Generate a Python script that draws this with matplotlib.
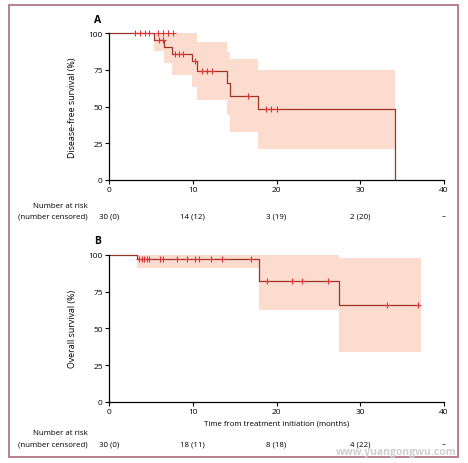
import matplotlib
matplotlib.use("Agg")
import matplotlib.pyplot as plt
from matplotlib.patches import Rectangle

plt.rcParams['font.family'] = ['Open Sans', 'DejaVu Sans']

# ---------------- Data ----------------
# Panel A: disease-free survival
a_step_t = [0, 5.4, 6.6, 7.5, 9.9, 10.5, 14.1, 14.5, 17.8]
a_step_s = [100, 95.6, 90.8, 85.9, 81.3, 74.0, 66.0, 57.4, 48.3]
a_end_t = 34.1
a_ci_lo = [100, 87.7, 79.7, 71.5, 63.0, 54.6, 44.0, 32.4, 21.0]
a_ci_hi = [100, 100, 100, 100, 100, 94.0, 87.0, 82.4, 75.2]
a_cens_t = [3.1, 3.7, 4.3, 4.8, 5.9, 6.5, 7.1, 7.7, 6.0, 6.5, 7.9, 8.3, 8.8, 10.3, 11.1, 11.7, 12.3, 16.6, 18.7, 19.4, 20.1]
a_cens_s = [100, 100, 100, 100, 100, 100, 100, 100, 95.6, 95.6, 85.9, 85.9, 85.9, 81.3, 74.0, 74.0, 74.0, 57.4, 48.3, 48.3, 48.3]
a_risk = ["30 (0)", "14 (12)", "3 (19)", "2 (20)", "--"]

# Panel B: overall survival
b_step_t = [0, 3.4, 17.9, 27.5]
b_step_s = [100, 97.3, 82.1, 65.7]
b_end_t = 37.0
b_ci_end = 37.2
b_ci_lo = [100, 91.0, 62.7, 33.7]
b_ci_hi = [100, 100, 100, 97.7]
b_cens_t = [3.6, 3.9, 4.2, 4.5, 4.8, 6.1, 6.4, 8.1, 9.3, 10.3, 10.8, 12.2, 13.5, 16.9, 18.9, 21.9, 23.1, 26.2, 33.2, 36.9]
b_cens_s = [97.3] * 14 + [82.1] * 4 + [65.7] * 2
b_risk = ["30 (0)", "18 (11)", "8 (18)", "4 (22)", "--"]

risk_x = [0, 10, 20, 30, 40]
xticks = [0, 10, 20, 30, 40]
yticks = [0, 25, 50, 75, 100]

LINE = '#9e3328'
CROSS = '#d8353a'
BAND = '#fcdccf'
FS = 6

fig = plt.figure(figsize=(4.68, 4.64), dpi=100)
fig.patch.set_facecolor('white')

# outer frame
fig.patches.append(Rectangle((9 / 468, 1 - 458 / 464), (458 - 9) / 468, (458 - 6) / 464,
                             transform=fig.transFigure, fill=False,
                             edgecolor='#b8808c', linewidth=1.4, zorder=0))


def panel(rect, step_t, step_s, end_t, ci_end, lo, hi, ct, cs, ylabel, letter):
    ax = fig.add_axes(rect)
    tt = list(step_t) + [ci_end]
    ax.fill_between(tt, list(lo) + [lo[-1]], list(hi) + [hi[-1]], step='post',
                    color=BAND, linewidth=0, zorder=1)
    xs = list(step_t) + [end_t]
    ys = list(step_s) + [step_s[-1]]
    ax.step(xs, ys, where='post', color=LINE, linewidth=0.9, zorder=2, clip_on=False)
    ax.plot(ct, cs, linestyle='none', marker='+', color=CROSS, markersize=4.5,
            markeredgewidth=0.8, zorder=3, clip_on=False)
    ax.set_xlim(0, 40)
    ax.set_ylim(0, 100)
    ax.set_xticks(xticks)
    ax.set_yticks(yticks)
    ax.tick_params(labelsize=FS, length=3, width=0.8, pad=1.5, color='black')
    for s in ['top', 'right']:
        ax.spines[s].set_visible(False)
    for s in ['left', 'bottom']:
        ax.spines[s].set_linewidth(0.9)
    ax.set_ylabel(ylabel, fontsize=6.4, labelpad=8)
    ax.text(-0.035, 1.06, letter, transform=ax.transAxes, fontsize=7.5,
            fontweight='bold', ha='center', va='bottom')
    return ax


axA = panel([109 / 468, 1 - 180.7 / 464, 335 / 468, 146.4 / 464],
            a_step_t, a_step_s, a_end_t, a_end_t, a_ci_lo, a_ci_hi,
            a_cens_t, a_cens_s, 'Disease-free survival (%)', 'A')
# final drop to zero in A
axA.plot([a_end_t, a_end_t], [a_step_s[-1], 0], color=LINE, linewidth=0.9, zorder=2)

axB = panel([109 / 468, 1 - 402.7 / 464, 335 / 468, 146.7 / 464],
            b_step_t, b_step_s, b_end_t, b_ci_end, b_ci_lo, b_ci_hi,
            b_cens_t, b_cens_s, 'Overall survival (%)', 'B')
axB.set_xlabel('Time from treatment initiation (months)', fontsize=5.7, labelpad=3)


def risk_table(ax, y1, y2, vals):
    fig.text(88 / 468, 1 - y1 / 464, 'Number at risk', fontsize=FS - 0.3, ha='right', va='center')
    fig.text(88 / 468, 1 - y2 / 464, '(number censored)', fontsize=FS - 0.3, ha='right', va='center')
    for x, v in zip(risk_x, vals):
        disp = ax.transData.transform((x, 0))
        xf = fig.transFigure.inverted().transform(disp)[0]
        fig.text(xf, 1 - y2 / 464, v, fontsize=FS - 0.3, ha='center', va='center')


risk_table(axA, 206.7, 216.7, a_risk)
risk_table(axB, 434, 445, b_risk)

fig.text(0.975, 1 - 453 / 464, 'www.yuangongwu.com', fontsize=7.5, fontweight='bold',
         color='#cfcfcf', ha='right', va='center')

fig.savefig('out.png', dpi=100)
